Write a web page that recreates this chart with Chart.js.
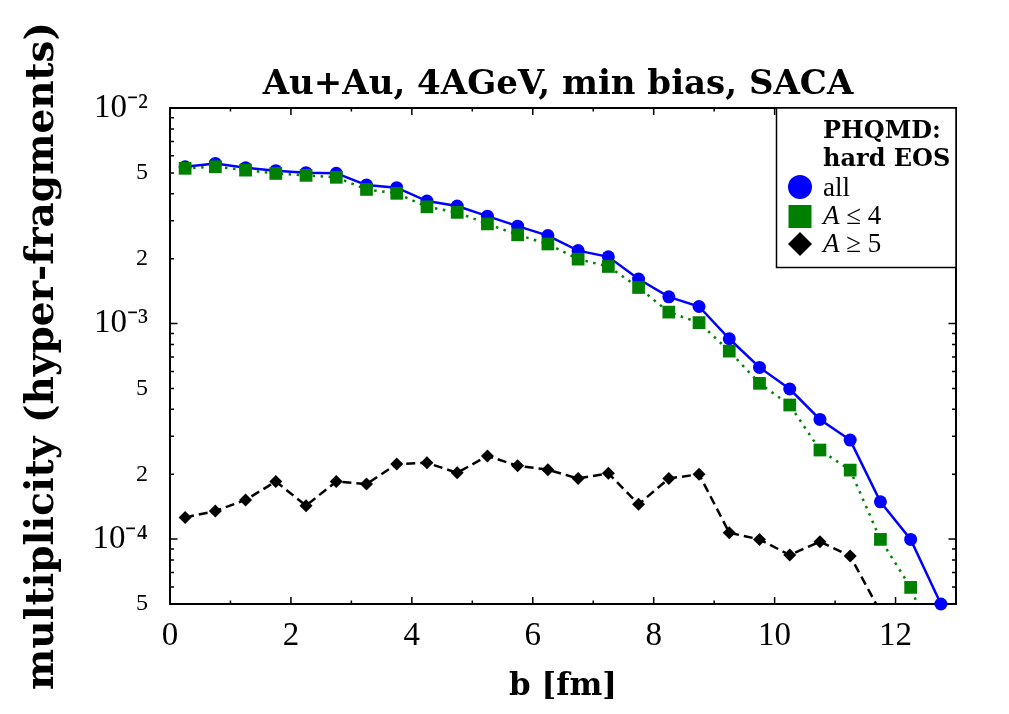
<!DOCTYPE html>
<html>
<head>
<meta charset="utf-8">
<script src="https://cdn.jsdelivr.net/npm/chart.js@4.4.1/dist/chart.umd.min.js"></script>
<style>
  html, body { margin: 0; padding: 0; background: #fff; }
</style>
</head>
<body>
<canvas id="chart" width="1009" height="714"></canvas>
<script>
// impact parameter bins [fm]
const bValues = [0.25, 0.75, 1.25, 1.75, 2.25, 2.75, 3.25, 3.75, 4.25, 4.75, 5.25, 5.75, 6.25,
                 6.75, 7.25, 7.75, 8.25, 8.75, 9.25, 9.75, 10.25, 10.75, 11.25, 11.75, 12.25, 12.75];

// multiplicity of hyper-fragments
const allFrag = [5.34e-3, 5.53e-3, 5.28e-3, 5.12e-3, 5.01e-3, 4.98e-3, 4.39e-3, 4.27e-3, 3.70e-3,
                 3.51e-3, 3.15e-3, 2.83e-3, 2.56e-3, 2.18e-3, 2.04e-3, 1.61e-3, 1.33e-3, 1.20e-3,
                 8.5e-4, 6.26e-4, 4.97e-4, 3.59e-4, 2.88e-4, 1.49e-4, 9.97e-5, 5.0e-5];
const lightFrag = [5.25e-3, 5.34e-3, 5.15e-3, 4.97e-3, 4.87e-3, 4.77e-3, 4.19e-3, 4.02e-3, 3.48e-3,
                   3.28e-3, 2.90e-3, 2.58e-3, 2.34e-3, 1.99e-3, 1.84e-3, 1.47e-3, 1.13e-3, 1.01e-3,
                   7.45e-4, 5.28e-4, 4.19e-4, 2.59e-4, 2.09e-4, 9.97e-5, 5.97e-5, 2.7e-5];
const heavyFrag = [1.26e-4, 1.35e-4, 1.52e-4, 1.85e-4, 1.43e-4, 1.85e-4, 1.80e-4, 2.23e-4, 2.26e-4,
                   2.03e-4, 2.43e-4, 2.19e-4, 2.10e-4, 1.91e-4, 2.02e-4, 1.45e-4, 1.91e-4, 2.00e-4,
                   1.07e-4, 9.97e-5, 8.44e-5, 9.73e-5, 8.34e-5, 4.6e-5];

// y axis ticks (log) and the ones that get a label
const yTicks = [5e-5, 6e-5, 7e-5, 8e-5, 9e-5,
                1e-4, 2e-4, 3e-4, 4e-4, 5e-4, 6e-4, 7e-4, 8e-4, 9e-4,
                1e-3, 2e-3, 3e-3, 4e-3, 5e-3, 6e-3, 7e-3, 8e-3, 9e-3, 1e-2];
const yLabelValues = [1e-2, 5e-3, 2e-3, 1e-3, 5e-4, 2e-4, 1e-4, 5e-5];
const yLabelTexts = ['10⁻²', '5', '2', '10⁻³', '5', '2', '10⁻⁴', '5'];
const yDecades = [1e-4, 1e-3, 1e-2];

const seriesNames = ['all', 'A ≤ 4', 'A ≥ 5'];

const REG = '"Liberation Serif", serif';
const BOLD = '"DejaVu Serif", serif';

const toPts = (vals) => vals.map((v, i) => ({ x: bValues[i], y: v }));

// title drawn over the plot area centre
const titlePlugin = {
  id: 'plotTitle',
  afterDraw(chart) {
    const { ctx, chartArea: a } = chart;
    ctx.save();
    ctx.font = 'bold 34px ' + BOLD;
    ctx.fillStyle = '#000';
    ctx.textAlign = 'center';
    ctx.textBaseline = 'alphabetic';
    ctx.fillText('Au+Au, 4AGeV, min bias, SACA', (a.left + a.right) / 2 - 5, 94);
    ctx.restore();
  }
};

// box + inward ticks on all four sides (gnuplot look)
const framePlugin = {
  id: 'frame',
  beforeDatasetsDraw(chart) {
    const { ctx, chartArea: a, scales: { x, y } } = chart;
    ctx.save();
    ctx.strokeStyle = '#000';
    ctx.lineWidth = 1.5;
    ctx.beginPath();
    x.ticks.forEach(t => {
      const px = x.getPixelForValue(t.value);
      const len = t.value % 2 === 0 ? 7 : 3.5;
      ctx.moveTo(px, a.bottom); ctx.lineTo(px, a.bottom - len);
      ctx.moveTo(px, a.top); ctx.lineTo(px, a.top + len);
    });
    y.ticks.forEach(t => {
      const py = y.getPixelForValue(t.value);
      const len = yDecades.includes(t.value) ? 7.5 : 4;
      ctx.moveTo(a.left, py); ctx.lineTo(a.left + len, py);
      ctx.moveTo(a.right, py); ctx.lineTo(a.right - len, py);
    });
    ctx.stroke();
    ctx.lineWidth = 2;
    ctx.strokeRect(a.left, a.top, a.right - a.left, a.bottom - a.top);
    ctx.restore();
  }
};

// legend box in the upper right corner
const legendPlugin = {
  id: 'boxLegend',
  afterDraw(chart) {
    const { ctx, chartArea: a } = chart;
    const left = 776.5, bottom = 267.5;
    ctx.save();
    ctx.fillStyle = '#fff';
    ctx.fillRect(left, a.top, a.right - left, bottom - a.top);
    ctx.strokeStyle = '#000';
    ctx.lineWidth = 1.5;
    ctx.strokeRect(left, a.top, a.right - left, bottom - a.top);

    ctx.fillStyle = '#000';
    ctx.textBaseline = 'alphabetic';
    ctx.font = 'bold 24px ' + BOLD;
    ctx.fillText('PHQMD:', 823, 138);
    ctx.fillText('hard EOS', 823, 166);

    const mx = 800, tx = 823;
    // all
    ctx.fillStyle = '#0000ff';
    ctx.beginPath(); ctx.arc(mx, 187, 12, 0, Math.PI * 2); ctx.fill();
    ctx.fillStyle = '#000';
    ctx.font = '27px ' + REG;
    ctx.fillText(seriesNames[0], tx, 196);
    // A <= 4
    ctx.fillStyle = '#008000';
    ctx.fillRect(mx - 11.5, 205, 23, 23);
    // A >= 5
    ctx.fillStyle = '#000';
    ctx.beginPath();
    ctx.moveTo(mx, 232); ctx.lineTo(mx + 12, 244); ctx.lineTo(mx, 256); ctx.lineTo(mx - 12, 244);
    ctx.closePath(); ctx.fill();

    [[seriesNames[1], 224], [seriesNames[2], 252]].forEach(([txt, by]) => {
      ctx.font = 'italic 27px ' + REG;
      ctx.fillText(txt[0], tx, by);
      const w = ctx.measureText(txt[0]).width;
      ctx.font = '27px ' + REG;
      ctx.fillText(txt.slice(1), tx + w, by);
    });
    ctx.restore();
  }
};

new Chart(document.getElementById('chart'), {
  type: 'line',
  plugins: [framePlugin, titlePlugin, legendPlugin],
  data: {
    datasets: [
      {
        label: seriesNames[1],
        data: toPts(lightFrag),
        borderColor: '#008000', backgroundColor: '#008000',
        borderWidth: 2.5, borderDash: [2.5, 5.5],
        pointStyle: 'rect', pointRadius: 9, pointBorderWidth: 0, pointHoverRadius: 9,
        clip: 0, order: 1
      },
      {
        label: seriesNames[0],
        data: toPts(allFrag),
        borderColor: '#0000ff', backgroundColor: '#0000ff',
        borderWidth: 2.5,
        pointStyle: 'circle', pointRadius: 6.5, pointBorderWidth: 0, pointHoverRadius: 6.5,
        clip: 12, order: 2
      },
      {
        label: seriesNames[2],
        data: toPts(heavyFrag),
        borderColor: '#000', backgroundColor: '#000',
        borderWidth: 2.5, borderDash: [9, 5],
        pointStyle: 'rectRot', pointRadius: 6.5, pointBorderWidth: 0, pointHoverRadius: 6.5,
        clip: 0, order: 3
      }
    ]
  },
  options: {
    responsive: false,
    animation: false,
    layout: { padding: { top: 108, right: 53, left: 0, bottom: 0 } },
    plugins: {
      legend: { display: false },
      tooltip: { enabled: false },
      title: { display: false }
    },
    scales: {
      x: {
        type: 'linear', min: 0, max: 13,
        grid: { display: false, drawTicks: false },
        border: { display: false },
        afterFit: (s) => { s.height = 110; },
        ticks: {
          stepSize: 1, autoSkip: false, maxRotation: 0, padding: 13,
          color: '#000', font: { family: REG, size: 33 },
          callback: (v) => (v % 2 === 0 ? String(v) : '')
        },
        title: {
          display: true, text: 'b [fm]', color: '#000',
          font: { family: BOLD, size: 31, weight: 'bold' },
          padding: { top: 0, bottom: 8 }
        }
      },
      y: {
        type: 'logarithmic', min: 5e-5, max: 1e-2,
        grid: { display: false, drawTicks: false },
        border: { display: false },
        afterFit: (s) => { s.width = 170; },
        afterBuildTicks: (s) => { s.ticks = yTicks.map(v => ({ value: v })); },
        ticks: {
          autoSkip: false, padding: 22, color: '#000',
          font: (c) => ({ family: REG, size: yDecades.includes(c.tick && c.tick.value) ? 33 : 24 }),
          callback: (v) => {
            const i = yLabelValues.indexOf(v);
            return i >= 0 ? yLabelTexts[i] : '';
          }
        },
        title: {
          display: true, text: 'multiplicity (hyper-fragments)', color: '#000',
          font: { family: BOLD, size: 39, weight: 'bold' },
          padding: { top: 19, bottom: 0 }
        }
      }
    }
  }
});
</script>
</body>
</html>
